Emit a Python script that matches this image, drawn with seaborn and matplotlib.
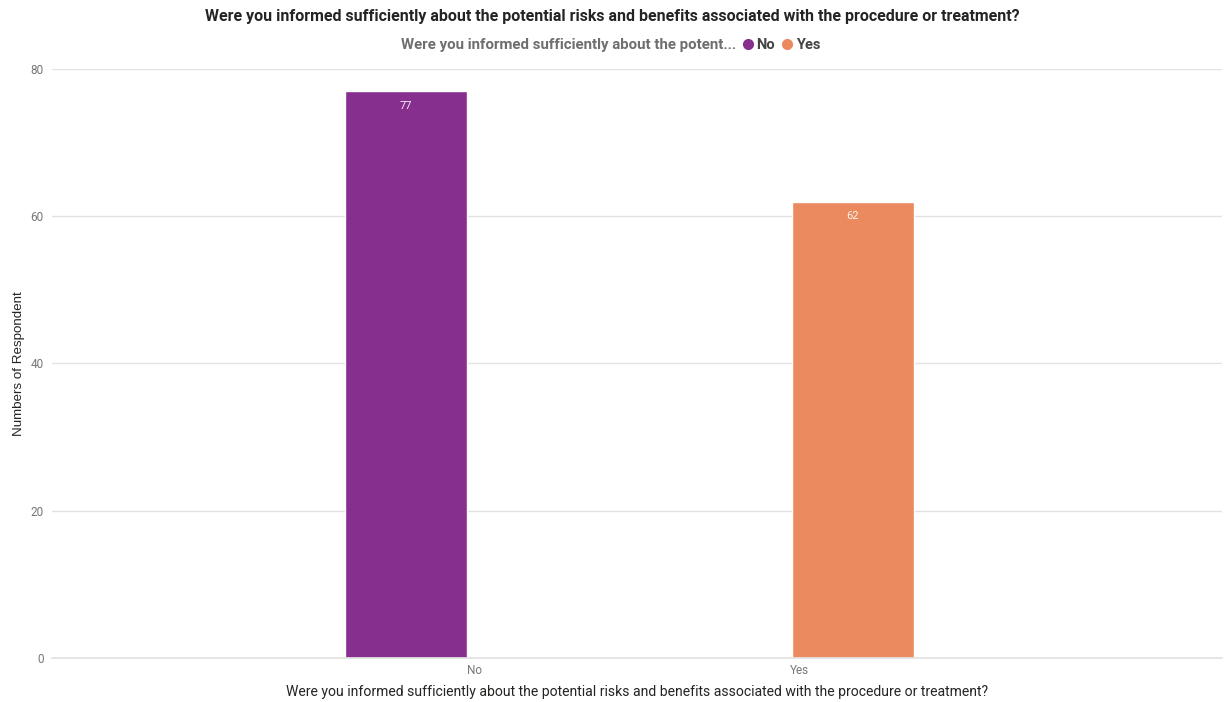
import matplotlib
matplotlib.use("Agg")
import matplotlib.pyplot as plt
import matplotlib.transforms as mtransforms
from matplotlib.lines import Line2D
import seaborn as sns
import pandas as pd

# data
answers = ["No", "Yes"]
counts = [77, 62]
colors = ["#862F8E", "#EA8A5E"]

question = "Were you informed sufficiently about the potential risks and benefits associated with the procedure or treatment?"

df = pd.DataFrame({"answer": answers, "count": counts})

sns.set_theme(style="whitegrid")
plt.rcParams["font.family"] = ["Roboto", "DejaVu Sans"]

fig = plt.figure(figsize=(12.24, 7.02), dpi=100)
ax = fig.add_axes([0.0425, 0.0627, 0.9555, 0.839])

sns.barplot(data=df, x="answer", y="count", hue="answer", palette=colors,
            dodge=True, width=0.75, legend=False, ax=ax, saturation=1)

for c in ax.containers:
    ax.bar_label(c, label_type="edge", padding=-14, color="white", fontsize=8, alpha=0.9)

ax.set_ylim(0, 80)
ax.set_yticks([0, 20, 40, 60, 80])
ax.set_xlim(-1.277, 2.323)
ax.grid(axis="x", visible=False)
ax.grid(axis="y", color="#E2E2E2", linewidth=1)
for s in ["top", "right", "left"]:
    ax.spines[s].set_visible(False)
ax.spines["bottom"].set_color("#E2E2E2")
ax.tick_params(axis="both", colors="#777777", labelsize=8.5, length=0, pad=4)
ax.tick_params(axis="y", pad=6)

# category labels sit a little right of the slot edge, as in the original
shift = mtransforms.ScaledTranslation(8 / 100, 0, fig.dpi_scale_trans)
for lab in ax.get_xticklabels():
    lab.set_transform(lab.get_transform() + shift)

ax.set_xlabel(question, fontsize=10.1, color="#252423", labelpad=6)
ax.set_ylabel("Numbers of Respondent", fontsize=9.6, color="#252423",
              family=["Liberation Sans"], labelpad=4)

fig.text(0.5, 0.976, question, ha="center", va="center", fontsize=11.5,
         fontweight="bold", color="#252423")

handles = [Line2D([], [], linestyle="none", marker="o", color=col, markersize=7)
           for col in colors]
leg = fig.legend(handles, answers, loc="center left", bbox_to_anchor=(0.605, 0.936),
                 ncol=2, frameon=False, handletextpad=0.1, columnspacing=0.3,
                 borderpad=0, borderaxespad=0, handlelength=1.0,
                 prop={"size": 10.5, "weight": "bold"})
for t in leg.get_texts():
    t.set_color("#444444")
fig.text(0.6015, 0.936, "Were you informed sufficiently about the potent...",
         ha="right", va="center", fontsize=10.8, fontweight="bold", color="#6E6E6E")

fig.savefig("out.png", dpi=100)
